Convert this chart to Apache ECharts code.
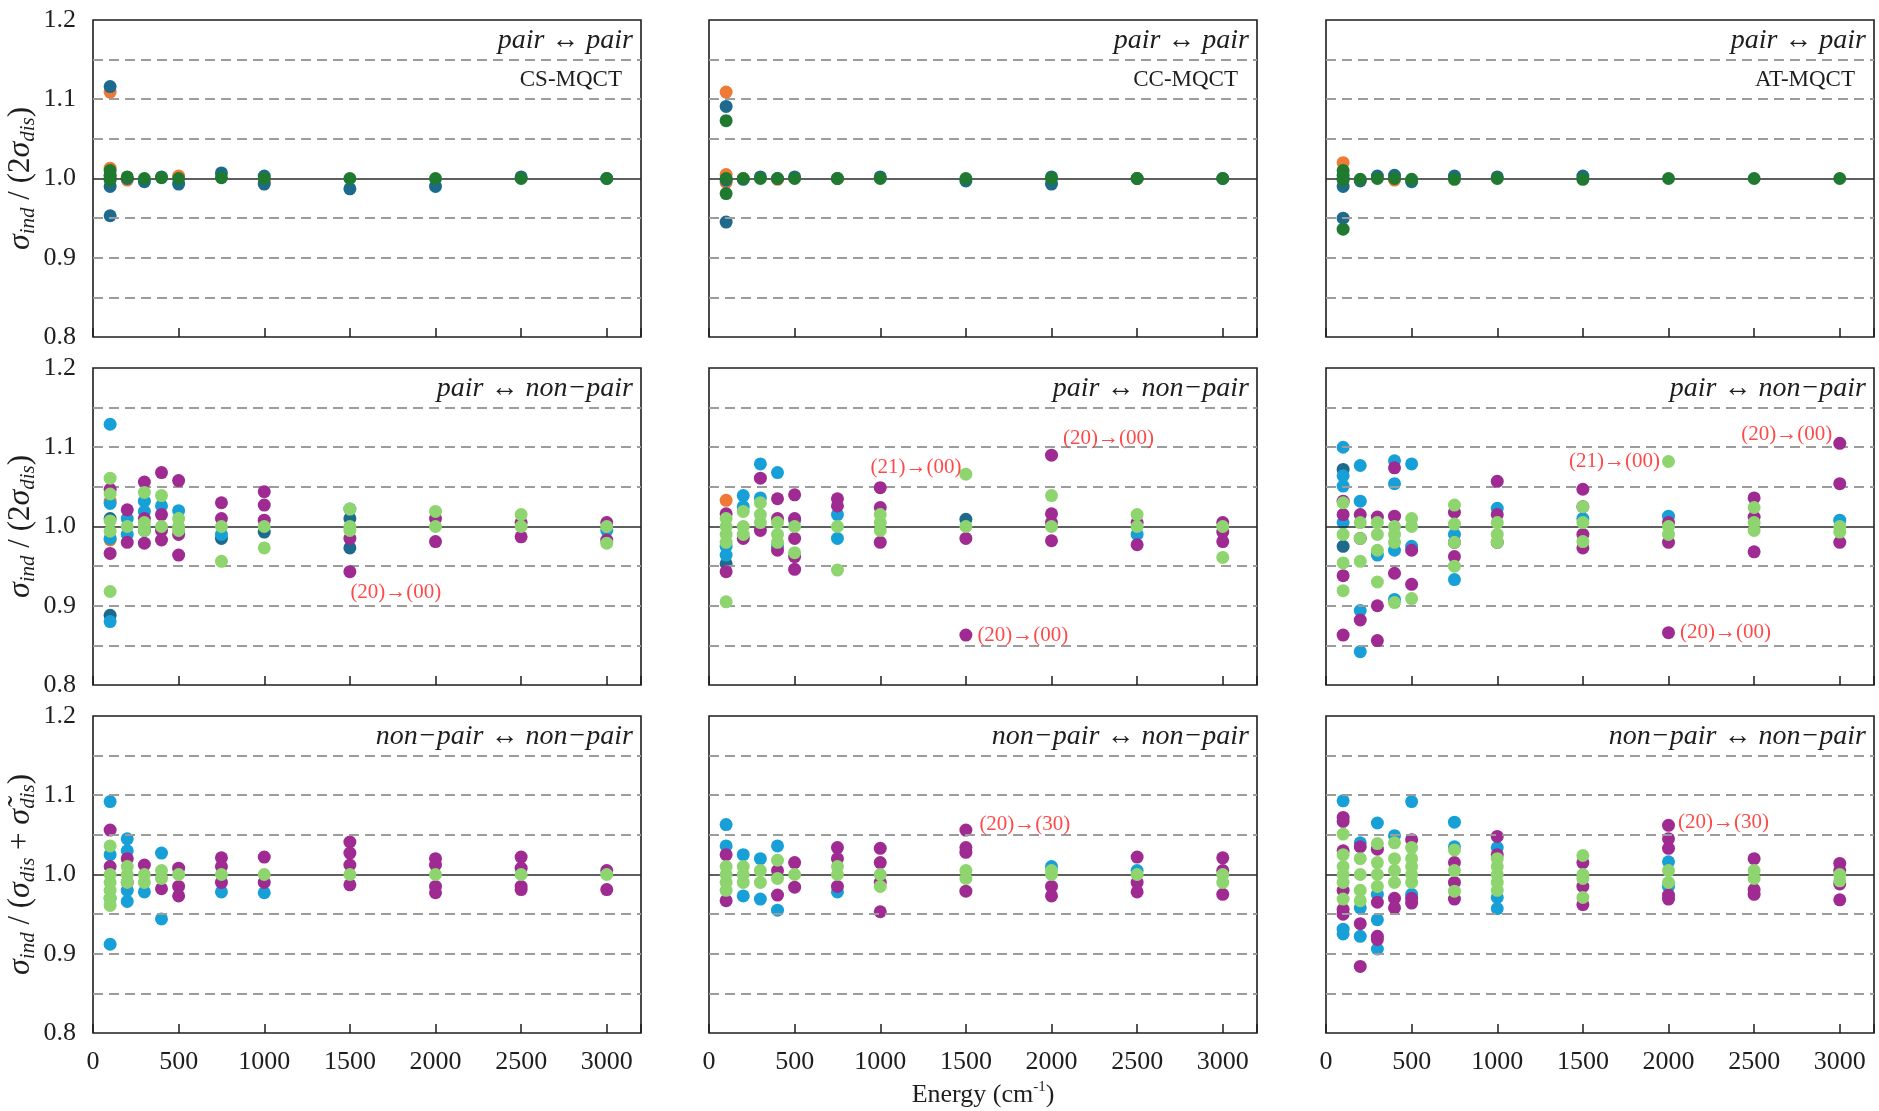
<!DOCTYPE html>
<html>
<head>
<meta charset="utf-8">
<title>MQCT cross-section ratios</title>
<script src="https://cdn.jsdelivr.net/npm/echarts@6/dist/echarts.min.js"></script>
<style>
  html, body { margin: 0; padding: 0; background: #ffffff; }
  #chart { width: 1879px; height: 1111px; }
</style>
</head>
<body>
<div id="chart"></div>
<script>
// ---------- data ----------
const ENERGY = [100, 200, 300, 400, 500, 750, 1000, 1500, 2000, 2500, 3000];
const X_TICKS = [0, 500, 1000, 1500, 2000, 2500, 3000];
const Y_TICKS = [0.8, 0.9, 1.0, 1.1, 1.2];
const GUIDE_LEVELS = [0.85, 0.9, 0.95, 1.05, 1.1, 1.15];
const UNITY = 1.0;
const METHODS = ['CS-MQCT', 'CC-MQCT', 'AT-MQCT'];
const TRANSITIONS = ['pair ↔ pair', 'pair ↔ non−pair', 'non−pair ↔ non−pair'];

// Each array lists, per energy in ENERGY, the ratios found at that energy.
// CS-MQCT, pair <-> pair
const CS_PP_1 = [[1.116, 0.99, 0.953, 1.0], [1.0], [0.996], [1.002], [0.993], [1.007], [1.003, 0.993], [0.987], [0.99], [1.002], [1.0]];
const CS_PP_2 = [[1.109, 1.013, 1.003], [0.998], [], [], [1.003], [], [0.996], [], [], [], []];
const CS_PP_3 = [[1.01, 1.004, 0.998], [1.002], [1.0], [1.001], [1.0], [1.001], [1.0], [1.0], [1.0], [1.0], [1.0]];
// CC-MQCT, pair <-> pair
const CC_PP_1 = [[1.091, 0.945, 0.998], [0.999], [1.002], [1.0], [1.002], [1.0], [1.002], [0.997], [1.002, 0.993], [1.0], [1.0]];
const CC_PP_2 = [[1.109, 1.005, 0.995], [1.0], [], [0.999], [], [1.0], [], [], [], [1.0], []];
const CC_PP_3 = [[1.073, 1.0, 0.981], [1.0], [1.0], [1.0], [1.0], [1.0], [1.0], [1.0], [1.0], [1.0], [1.0]];
// AT-MQCT, pair <-> pair
const AT_PP_1 = [[0.99, 0.95, 1.0], [0.997], [1.003], [1.004], [0.996], [1.003], [1.002], [1.003], [], [], []];
const AT_PP_2 = [[1.02], [], [], [0.998], [], [], [], [], [], [], []];
const AT_PP_3 = [[1.01, 1.004, 0.998, 0.936], [0.999], [1.0], [1.0], [0.999], [0.999], [1.0], [0.999], [1.0], [1.0], [1.0]];

// CS-MQCT, pair <-> non-pair
const CS_PN_1 = [[1.01, 0.888], [], [0.995], [], [], [0.985], [0.993], [1.01, 0.973], [], [], []];
const CS_PN_2 = [[1.032, 0.983], [], [], [], [], [], [], [], [], [], []];
const CS_PN_4 = [[1.129, 1.029, 0.985, 0.88], [1.01, 0.99], [1.032, 1.019], [1.026], [1.02], [0.99], [], [1.022], [], [], [0.995]];
const CS_PN_5 = [[1.047, 0.966], [1.021, 0.98], [1.056, 1.01, 0.979], [1.068, 1.015, 0.995, 0.983], [1.058, 0.99, 0.964], [1.03, 1.01], [1.044, 1.027, 1.008], [0.985, 0.943], [1.01, 0.981], [1.005, 0.987], [1.005, 0.983]];
const CS_PN_6 = [[1.061, 1.041, 1.007, 0.994, 0.918], [1.0], [1.043, 1.005, 1.0, 0.995], [1.039, 1.0], [1.01, 1.0, 0.995], [1.0, 0.956], [1.0, 0.973], [1.022, 1.0, 0.995], [1.019, 1.0], [1.015, 1.0], [1.0, 0.979]];
// CC-MQCT, pair <-> non-pair
const CC_PN_1 = [[0.953], [], [], [], [], [], [], [1.009], [], [], []];
const CC_PN_2 = [[1.033], [], [], [], [], [], [], [], [], [], []];
const CC_PN_4 = [[0.975, 0.964], [1.039, 1.025], [1.079, 1.036], [1.068, 0.975], [1.008], [1.015, 0.985], [], [], [], [0.99], []];
const CC_PN_5 = [[1.016, 0.943], [0.985], [1.061, 0.995], [1.035, 1.01, 0.97], [1.04, 1.01, 0.985, 0.962, 0.946], [1.035, 1.026], [1.049, 1.024, 0.98], [0.985, 0.863], [1.09, 1.016, 1.005, 0.982], [1.005, 0.977], [1.005, 0.993, 0.981]];
const CC_PN_6 = [[1.01, 1.0, 0.99, 0.98, 0.905], [1.019, 1.0, 0.99], [1.03, 1.015, 1.005], [1.005, 0.99, 0.98], [1.0, 0.967], [1.0, 0.945], [1.015, 1.005, 0.995], [1.066, 1.0], [1.039, 1.0], [1.015, 1.0], [1.0, 0.961]];
// AT-MQCT, pair <-> non-pair
const AT_PN_1 = [[1.072, 0.975], [], [], [], [], [], [], [], [], [], []];
const AT_PN_4 = [[1.1, 1.064, 1.051, 1.005], [1.077, 1.032, 0.894, 0.842], [0.964], [1.083, 1.054, 0.97, 0.908], [1.079, 0.975], [0.99, 0.933], [1.023], [1.01], [1.013], [], [1.008]];
const AT_PN_5 = [[1.032, 1.015, 0.938, 0.863], [1.015, 0.985, 0.882], [1.012, 0.9, 0.856], [1.074, 1.013, 0.941], [0.97, 0.927], [1.018, 0.98, 0.962], [1.057, 1.015, 0.98], [1.047, 1.025, 0.99, 0.973], [1.005, 0.98, 0.866], [1.036, 1.012, 0.968], [1.105, 1.054, 0.98]];
const AT_PN_6 = [[1.03, 0.99, 0.954, 0.919], [1.005, 0.985, 0.956], [1.005, 0.99, 0.97, 0.93], [1.0, 0.99, 0.98, 0.904], [1.01, 1.0, 0.909], [1.027, 1.003, 0.98, 0.95], [1.005, 0.99, 0.98], [1.025, 1.005, 0.981], [1.082, 1.0, 0.99], [1.024, 1.005, 0.995], [1.0, 0.993]];

// CS-MQCT, non-pair <-> non-pair
const CS_NN_4 = [[1.092, 1.025, 0.97, 0.912], [1.045, 1.03, 0.98, 0.966], [0.978], [1.027, 0.944], [], [0.978], [0.977], [], [], [], []];
const CS_NN_5 = [[1.056, 1.01], [1.02, 0.99], [1.012], [0.982], [1.008, 0.985, 0.973], [1.021, 1.01, 0.99], [1.022, 0.99], [1.041, 1.027, 1.012, 0.987], [1.02, 1.012, 0.985, 0.977], [1.022, 1.008, 0.985, 0.981], [1.005, 0.981]];
const CS_NN_6 = [[1.036, 1.0, 0.99, 0.98, 0.97, 0.961], [1.01, 1.0, 0.99], [1.0, 0.99], [1.005, 0.995], [1.0], [1.0], [1.0], [1.0], [1.0], [1.0], [1.0]];
// CC-MQCT, non-pair <-> non-pair
const CC_NN_4 = [[1.063, 1.036], [1.025, 0.973], [1.02, 0.969], [1.036, 0.955], [], [0.978], [], [], [1.01], [1.005], []];
const CC_NN_5 = [[1.025, 0.967], [], [], [1.005, 0.974], [1.015, 0.984], [1.034, 1.02, 0.985], [1.033, 1.015, 0.99, 0.953], [1.056, 1.034, 1.028, 0.979], [0.985, 0.973], [1.022, 0.99, 0.978], [1.021, 1.005, 0.975]];
const CC_NN_6 = [[1.01, 1.0, 0.99, 0.98], [1.01, 1.0, 0.99], [1.005, 0.99], [1.018, 0.995], [1.0], [1.01, 1.0], [1.0, 0.985], [1.005, 0.995], [1.005, 1.0], [1.0], [1.0, 0.99]];
// AT-MQCT, non-pair <-> non-pair
const AT_NN_4 = [[1.093, 0.931, 0.925], [1.04, 0.958, 0.922], [1.065, 0.975, 0.943, 0.906], [1.049], [1.092, 0.975], [1.066, 1.035], [1.034, 0.971, 0.957], [], [1.016, 0.985], [], []];
const AT_NN_5 = [[1.072, 1.067, 1.03, 0.98, 0.956, 0.95], [1.035, 0.938, 0.884], [1.032, 0.965, 0.922, 0.918], [0.97, 0.958], [1.044, 0.97, 0.964], [1.015, 0.99, 0.969], [1.048, 1.025], [1.015, 0.985, 0.962], [1.062, 1.045, 1.033, 0.974, 0.969], [1.02, 0.981, 0.975], [1.014, 1.005, 0.988, 0.968]];
const AT_NN_6 = [[1.051, 1.025, 1.01, 1.0, 0.99, 0.969], [1.02, 1.0, 0.98, 0.967], [1.039, 1.015, 1.0, 0.985], [1.04, 1.02, 1.005, 0.99], [1.034, 1.02, 1.01, 1.0, 0.99], [1.031, 1.005, 0.979], [1.02, 1.01, 1.0, 0.99, 0.98], [1.024, 1.0, 0.995, 0.971], [1.005, 0.99], [1.005, 0.995], [1.0, 0.992]];

// Transitions called out in the panels: [energy, ratio, text]
const NOTE_CS_PN = [[1500, 0.943, '(20)→(00)']];
const NOTE_CC_PN = [[1500, 0.863, '(20)→(00)'], [2000, 1.09, '(20)→(00)'], [1500, 1.066, '(21)→(00)']];
const NOTE_AT_PN = [[2000, 1.082, '(21)→(00)'], [2000, 0.866, '(20)→(00)'], [3000, 1.105, '(20)→(00)']];
const NOTE_CC_NN = [[1500, 1.056, '(20)→(30)']];
const NOTE_AT_NN = [[2000, 1.062, '(20)→(30)']];

// ---------- styling ----------
const SERIF = "'Liberation Serif', 'Times New Roman', serif";
const INK = '#1e1e1e';
const COLORS = { s1: '#1d6a8d', s2: '#ee7a35', s3: '#1f7a30', s4: '#17a0d8', s5: '#9e2a92', s6: '#8fd56f' };
const GRID_LEFT = [93, 709, 1326];
const GRID_TOP = [20, 368, 716];
const GRID_W = 548, GRID_H = 317;
const CHART_W = 1879;

// label placement for each note: [side, dx, dy]
const NOTE_PLACE = {
  CS_PN: [['right', 0, 21]],
  CC_PN: [['right', 11, 0], ['right', 11, -17], ['left', -4, -7]],
  AT_PN: [['left', -8, 0], ['right', 11, 0], ['left', -7, -9]],
  CC_NN: [['right', 13, -6]],
  AT_NN: [['right', 9, -3]]
};

// panel contents, row by row (transition type), column by column (method)
const PANELS = [
  { key: 'CS_PP', sets: [['s2', CS_PP_2], ['s1', CS_PP_1], ['s3', CS_PP_3]] },
  { key: 'CC_PP', sets: [['s2', CC_PP_2], ['s1', CC_PP_1], ['s3', CC_PP_3]] },
  { key: 'AT_PP', sets: [['s2', AT_PP_2], ['s1', AT_PP_1], ['s3', AT_PP_3]] },
  { key: 'CS_PN', sets: [['s1', CS_PN_1], ['s2', CS_PN_2], ['s4', CS_PN_4], ['s5', CS_PN_5], ['s6', CS_PN_6]], notes: NOTE_CS_PN },
  { key: 'CC_PN', sets: [['s1', CC_PN_1], ['s2', CC_PN_2], ['s4', CC_PN_4], ['s5', CC_PN_5], ['s6', CC_PN_6]], notes: NOTE_CC_PN },
  { key: 'AT_PN', sets: [['s1', AT_PN_1], ['s4', AT_PN_4], ['s5', AT_PN_5], ['s6', AT_PN_6]], notes: NOTE_AT_PN },
  { key: 'CS_NN', sets: [['s4', CS_NN_4], ['s5', CS_NN_5], ['s6', CS_NN_6]] },
  { key: 'CC_NN', sets: [['s4', CC_NN_4], ['s5', CC_NN_5], ['s6', CC_NN_6]], notes: NOTE_CC_NN },
  { key: 'AT_NN', sets: [['s4', AT_NN_4], ['s5', AT_NN_5], ['s6', AT_NN_6]], notes: NOTE_AT_NN }
];

const Y_NAMES = [
  '{i|σ}{sub|ind}{n| / (2}{i|σ}{sub|dis}{n|)}',
  '{i|σ}{sub|ind}{n| / (2}{i|σ}{sub|dis}{n|)}',
  '{i|σ}{sub|ind}{n| / (}{i|σ}{sub|dis}{n| + }{i|σ\u0303}{sub|dis}{n|)}'
];

function toPoints(values) {
  const pts = [];
  ENERGY.forEach((e, i) => values[i].forEach(v => pts.push([e, v])));
  return pts;
}

const grids = [], xAxes = [], yAxes = [], series = [], titles = [];

PANELS.forEach((panel, idx) => {
  const row = Math.floor(idx / 3), col = idx % 3;
  const left = GRID_LEFT[col], top = GRID_TOP[row];
  grids.push({
    left: left, top: top, width: GRID_W, height: GRID_H,
    show: true, borderColor: INK, borderWidth: 1.6, backgroundColor: 'transparent'
  });
  xAxes.push({
    gridIndex: idx, type: 'value', min: 0, max: 3200, interval: 500,
    axisLine: { show: false },
    axisTick: { show: true, inside: true, length: 9, lineStyle: { color: INK, width: 1.5 } },
    splitLine: { show: false },
    axisLabel: {
      show: row === 2, margin: 16, color: INK, fontFamily: SERIF, fontSize: 26,
      formatter: v => (X_TICKS.indexOf(v) >= 0 ? String(v) : '')
    },
    name: idx === 7 ? 'Energy (cm{sup|-1})' : '',
    nameLocation: 'middle', nameGap: 47,
    nameTextStyle: {
      color: INK, fontFamily: SERIF, fontSize: 26, lineHeight: 30,
      rich: { sup: { fontFamily: SERIF, fontSize: 15, color: INK, verticalAlign: 'top', lineHeight: 14 } }
    }
  });
  yAxes.push({
    gridIndex: idx, type: 'value', min: 0.8, max: 1.2, interval: 0.1,
    axisLine: { show: false }, axisTick: { show: false }, splitLine: { show: false },
    axisLabel: {
      show: col === 0, margin: 17, color: INK, fontFamily: SERIF, fontSize: 26,
      formatter: v => {
        const hit = Y_TICKS.find(t => Math.abs(t - v) < 1e-6);
        return hit === undefined ? '' : hit.toFixed(1);
      }
    },
    name: col === 0 ? Y_NAMES[row] : '',
    nameLocation: 'middle', nameRotate: 90, nameGap: 54,
    nameTextStyle: {
      color: INK, fontFamily: SERIF, fontSize: 31, lineHeight: 36,
      rich: {
        i: { fontFamily: SERIF, fontStyle: 'italic', fontSize: 32, color: INK, lineHeight: 36, verticalAlign: 'middle' },
        n: { fontFamily: SERIF, fontSize: 31, color: INK, lineHeight: 36, verticalAlign: 'middle' },
        sub: { fontFamily: SERIF, fontStyle: 'italic', fontSize: 21, color: INK, lineHeight: 20, verticalAlign: 'bottom' }
      }
    }
  });

  // reference levels: dashed guides and the solid unity line
  series.push({
    type: 'scatter', xAxisIndex: idx, yAxisIndex: idx, data: [], silent: true, z: 1,
    markLine: {
      silent: true, symbol: ['none', 'none'], animation: false,
      label: { show: false },
      data: GUIDE_LEVELS.map(v => ({ yAxis: v, lineStyle: { color: '#9c9c9c', width: 2, type: [10, 6] } }))
        .concat([{ yAxis: UNITY, lineStyle: { color: '#2a2a2a', width: 1.6, type: 'solid' } }])
    }
  });

  panel.sets.forEach(([sk, values], k) => {
    series.push({
      type: 'scatter', name: panel.key + '-' + sk,
      xAxisIndex: idx, yAxisIndex: idx, z: 3 + k,
      symbol: 'circle', symbolSize: 13,
      itemStyle: { color: COLORS[sk], opacity: 1 },
      data: toPoints(values)
    });
  });

  if (panel.notes) {
    const place = NOTE_PLACE[panel.key];
    series.push({
      type: 'scatter', xAxisIndex: idx, yAxisIndex: idx, z: 10, silent: true,
      symbol: 'circle', symbolSize: 1, itemStyle: { color: 'rgba(0,0,0,0)' },
      data: panel.notes.map(([e, v, txt], j) => ({
        value: [e, v],
        label: {
          show: true, formatter: txt, position: place[j][0], distance: 0,
          offset: [place[j][1], place[j][2]],
          color: '#ff1a1a', fontFamily: SERIF, fontSize: 21
        }
      }))
    });
  }

  const rightEdge = CHART_W - (left + GRID_W);
  titles.push({
    text: TRANSITIONS[row], right: rightEdge + 8, top: top + 7, padding: 0,
    textStyle: { fontFamily: SERIF, fontStyle: 'italic', fontWeight: 'normal', fontSize: 28, color: INK }
  });
  if (row === 0) {
    titles.push({
      text: METHODS[col], right: rightEdge + 19, top: top + 48, padding: 0,
      textStyle: { fontFamily: SERIF, fontWeight: 'normal', fontSize: 23, color: INK }
    });
  }
});

const chart = echarts.init(document.getElementById('chart'), null, { renderer: 'canvas' });
chart.setOption({
  backgroundColor: '#ffffff',
  animation: false,
  title: titles,
  grid: grids,
  xAxis: xAxes,
  yAxis: yAxes,
  series: series
});
</script>
</body>
</html>
